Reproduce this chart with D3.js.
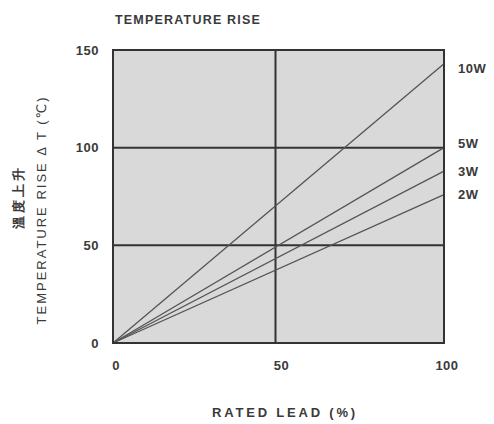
<!DOCTYPE html>
<html>
<head>
<meta charset="utf-8">
<script src="https://cdn.jsdelivr.net/npm/d3@7"></script>
<style>
body { margin: 0; background: #fff; }
text { font-family: "Liberation Sans", "DejaVu Sans", sans-serif; fill: #3a3a3a; }
</style>
</head>
<body>
<svg id="viz"></svg>
<script>
// rated load (%) at the two ends of each line
var loads = [0, 100]
// temperature rise at 0% and 100% load
var rise10W = [0, 143]
var rise5W = [0, 100]
var rise3W = [0, 88]
var rise2W = [0, 76]
var seriesNames = ['10W', '5W', '3W', '2W']
var xTicks = [0, 50, 100]
var yTicks = [0, 50, 100, 150]

var series = [rise10W, rise5W, rise3W, rise2W]

var width = 494, height = 424
var margin = {left: 113, right: 50, top: 50, bottom: 81}

var svg = d3.select('#viz').attr('width', width).attr('height', height)

var x = d3.scaleLinear().domain([0, 100]).range([margin.left, width - margin.right])
var y = d3.scaleLinear().domain([0, 150]).range([height - margin.bottom, margin.top])

// plot background
svg.append('rect')
	.attr('x', x(0)).attr('y', y(150))
	.attr('width', x(100) - x(0)).attr('height', y(0) - y(150))
	.attr('fill', '#d9d9d9')

// grid lines at mid ticks
svg.selectAll('.vgrid').data(xTicks.filter(d => d > 0 && d < 100)).enter()
	.append('line')
	.attr('x1', d => x(d) - 3).attr('x2', d => x(d) - 3)
	.attr('y1', y(0)).attr('y2', y(150))
	.attr('stroke', '#333').attr('stroke-width', 2)

svg.selectAll('.hgrid').data(yTicks.filter(d => d > 0 && d < 150)).enter()
	.append('line')
	.attr('x1', x(0)).attr('x2', x(100))
	.attr('y1', d => y(d)).attr('y2', d => y(d))
	.attr('stroke', '#333').attr('stroke-width', 2)

// lines
var line = d3.line().x((d, i) => x(loads[i])).y(d => y(d))
svg.selectAll('.series').data(series).enter()
	.append('path')
	.attr('d', d => line(d))
	.attr('fill', 'none')
	.attr('stroke', '#555')
	.attr('stroke-width', 1.3)

// frame
svg.append('rect')
	.attr('x', x(0)).attr('y', y(150))
	.attr('width', x(100) - x(0)).attr('height', y(0) - y(150))
	.attr('fill', 'none').attr('stroke', '#333').attr('stroke-width', 2)

// series labels, nudged a bit apart for readability
var labelOffsets = [5, -4, 0, 0]
svg.selectAll('.slabel').data(series).enter()
	.append('text')
	.attr('x', x(100) + 14)
	.attr('y', (d, i) => y(d[1]) + labelOffsets[i])
	.attr('dy', '0.35em')
	.attr('font-size', 13)
	.attr('font-weight', 'bold')
	.attr('fill', '#555')
	.attr('letter-spacing', 0.5)
	.text((d, i) => seriesNames[i])

// tick labels
svg.selectAll('.ytick').data(yTicks).enter()
	.append('text')
	.attr('x', x(0) - 14)
	.attr('y', d => y(d))
	.attr('dy', '0.35em')
	.attr('text-anchor', 'end')
	.attr('font-size', 13)
	.attr('font-weight', 'bold')
	.attr('fill', '#555')
	.attr('letter-spacing', 0.5)
	.text(d => d)

svg.selectAll('.xtick').data(xTicks).enter()
	.append('text')
	.attr('x', d => x(d) + 3)
	.attr('y', y(0) + 27)
	.attr('text-anchor', 'middle')
	.attr('font-size', 13)
	.attr('font-weight', 'bold')
	.attr('fill', '#555')
	.attr('letter-spacing', 0.5)
	.text(d => d)

// titles
svg.append('text')
	.attr('x', 115).attr('y', 24)
	.attr('font-size', 12.5)
	.attr('font-weight', 'bold')
	.attr('fill', '#555')
	.attr('letter-spacing', 1.2)
	.text('TEMPERATURE RISE')

svg.append('text')
	.attr('x', 285).attr('y', 417)
	.attr('text-anchor', 'middle')
	.attr('font-size', 13)
	.attr('font-weight', 'bold')
	.attr('fill', '#555')
	.attr('letter-spacing', 2.8)
	.text('RATED LEAD (%)')

svg.append('text')
	.attr('transform', 'translate(46,210) rotate(-90)')
	.attr('text-anchor', 'middle')
	.attr('font-size', 13)
	.attr('letter-spacing', 2)
	.text('TEMPERATURE RISE \u0394 T (\u2103)')

svg.append('text')
	.attr('transform', 'translate(23,197) rotate(-90)')
	.attr('text-anchor', 'middle')
	.attr('font-family', '"Noto Sans CJK TC", sans-serif')
	.attr('font-weight', 'bold')
	.attr('font-size', 13)
	.attr('letter-spacing', 3)
	.attr('fill', '#555')
	.text('溫度上升')
</script>
</body>
</html>
